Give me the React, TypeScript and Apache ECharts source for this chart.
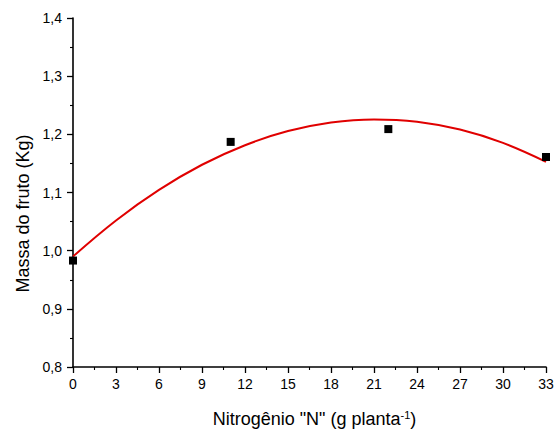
import React, { useEffect, useRef } from "react";
import * as echarts from "echarts";

const obsX = [0, 11, 22, 33];
const obsY = [0.983, 1.187, 1.209, 1.161];

const fitX = [0, 3, 6, 9, 12, 15, 18, 21, 24, 27, 30, 33];
const fitY = [0.99, 1.052, 1.1045, 1.1477, 1.1813, 1.2056, 1.2203, 1.2257, 1.2217, 1.2082, 1.1853, 1.1528];

const xTitle = "Nitrogênio \"N\" (g planta";
const yTitle = "Massa do fruto (Kg)";

export default function App() {
  const ref = useRef<HTMLDivElement>(null);
  useEffect(() => {
    document.body.style.margin = "0";
    document.body.style.overflow = "hidden";
    document.documentElement.style.overflow = "hidden";
    if (!ref.current) return;
    const chart = echarts.init(ref.current, undefined, { renderer: "svg" });
    const font = "Liberation Sans, Arial, sans-serif";
    chart.setOption({
      animation: false,
      backgroundColor: "#ffffff",
      grid: { left: 73, right: 13, top: 18, bottom: 61, containLabel: false },
      xAxis: {
        type: "value",
        min: 0,
        max: 33,
        interval: 3,
        name: `${xTitle}{sup|-1}{par|)}`,
        nameLocation: "middle",
        nameGap: 42,
        nameTextStyle: {
          fontFamily: font,
          fontSize: 18,
          color: "#000",
          padding: [0, 0, 0, 10],
          rich: {
            sup: { fontFamily: font, fontSize: 11, color: "#000", verticalAlign: "top", padding: [0, 0, 9, 0] },
            par: { fontFamily: font, fontSize: 18, color: "#000" },
          },
        },
        axisLine: { show: true, lineStyle: { color: "#000", width: 1.6 } },
        axisTick: { show: true, inside: false, length: 6, lineStyle: { color: "#000", width: 1.3 } },
        minorTick: { show: true, splitNumber: 2, length: 3, lineStyle: { color: "#000", width: 1.1 } },
        axisLabel: { fontFamily: font, fontSize: 14, color: "#000", margin: 10 },
        splitLine: { show: false },
        minorSplitLine: { show: false },
      },
      yAxis: {
        type: "value",
        min: 0.8,
        max: 1.4,
        interval: 0.1,
        name: yTitle,
        nameLocation: "middle",
        nameGap: 41,
        nameTextStyle: { fontFamily: font, fontSize: 18, color: "#000", padding: [0, 42, 0, 0] },
        axisLine: { show: true, lineStyle: { color: "#000", width: 1.6 } },
        axisTick: { show: true, inside: false, length: 6, lineStyle: { color: "#000", width: 1.3 } },
        minorTick: { show: true, splitNumber: 2, length: 3, lineStyle: { color: "#000", width: 1.1 } },
        axisLabel: {
          fontFamily: font,
          fontSize: 14,
          color: "#000",
          margin: 11,
          formatter: (v: number) => v.toFixed(1).replace(".", ","),
        },
        splitLine: { show: false },
        minorSplitLine: { show: false },
      },
      series: [
        {
          type: "line",
          data: fitX.map((x, i) => [x, fitY[i]]),
          smooth: 0.4,
          showSymbol: false,
          symbol: "none",
          lineStyle: { color: "#e00000", width: 2 },
          z: 2,
        },
        {
          type: "scatter",
          data: obsX.map((x, i) => [x, obsY[i]]),
          symbol: "rect",
          symbolSize: 8,
          itemStyle: { color: "#000", opacity: 1 },
          emphasis: { disabled: true },
          z: 3,
        },
      ],
    });
    return () => chart.dispose();
  }, []);
  return (
    <div style={{ width: 559, height: 433, overflow: "hidden", position: "relative" }}>
      <div ref={ref} style={{ width: 559, height: 433 }} />
    </div>
  );
}
